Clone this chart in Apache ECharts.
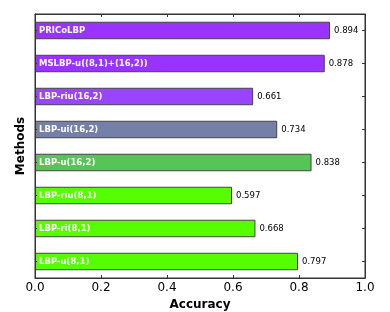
<!DOCTYPE html>
<html><head><meta charset="utf-8">
<script src="https://cdn.jsdelivr.net/npm/echarts@6/dist/echarts.min.js"></script>
<style>html,body{margin:0;padding:0;background:#fff}#c{width:390px;height:312px}</style>
</head><body><div id="c"></div>
<script>
// top-to-bottom order
const categories = ['PRICoLBP','MSLBP-u((8,1)+(16,2))','LBP-riu(16,2)','LBP-ui(16,2)','LBP-u(16,2)','LBP-riu(8,1)','LBP-ri(8,1)','LBP-u(8,1)'];
const accuracy = [0.894, 0.878, 0.661, 0.734, 0.838, 0.597, 0.668, 0.797];
const barColors = ['#9933ff','#9933ff','#9944ff','#7480a8','#55c555','#55ff00','#55ff00','#55ff00'];
const xTicks = [0, 0.2, 0.4, 0.6, 0.8, 1.0];

const chart = echarts.init(document.getElementById('c'));
const font = 'DejaVu Sans';
chart.setOption({
  animation: false,
  textStyle: {fontFamily: font},
  grid: {left: 35, right: 25, top: 14, bottom: 34, outerBoundsMode: 'none', containLabel: false,
    show: true, borderColor: '#333', borderWidth: 1, backgroundColor: 'transparent'},
  xAxis: [{
    type: 'value', min: xTicks[0], max: xTicks[xTicks.length-1], interval: 0.2,
    position: 'bottom',
    name: 'Accuracy', nameLocation: 'middle', nameGap: 19,
    nameTextStyle: {fontFamily: font, fontWeight: 'bold', fontSize: 12, color: '#000'},
    axisLine: {show: true, onZero: false, lineStyle: {color: '#333', width: 1}},
    axisTick: {show: true, inside: true, length: 3, lineStyle: {color: '#333'}},
    axisLabel: {fontFamily: font, fontSize: 12, color: '#000', margin: 4, formatter: v => v.toFixed(1)},
    splitLine: {show: false}
  },{
    type: 'value', min: xTicks[0], max: xTicks[xTicks.length-1], interval: 0.2,
    position: 'top',
    axisLine: {show: true, onZero: false, lineStyle: {color: '#333', width: 1}},
    axisTick: {show: true, inside: true, length: 3, lineStyle: {color: '#333'}},
    axisLabel: {show: false}, splitLine: {show: false}
  }],
  yAxis: [{
    type: 'category', data: categories, inverse: true, position: 'left', z: 10,
    name: 'Methods', nameLocation: 'middle', nameGap: 4, nameRotate: 90,
    nameTextStyle: {fontFamily: font, fontWeight: 'bold', fontSize: 12, color: '#000'},
    axisLine: {show: true, onZero: false, lineStyle: {color: '#333', width: 1}},
    axisTick: {show: true, inside: true, length: 2, alignWithLabel: true, lineStyle: {color: '#333'}},
    axisLabel: {inside: true, margin: 4, color: '#fff', fontWeight: 'bold', fontSize: 8.5, fontFamily: font},
    splitLine: {show: false}
  },{
    type: 'category', data: categories, inverse: true, position: 'right',
    axisLine: {show: true, onZero: false, lineStyle: {color: '#333', width: 1}},
    axisTick: {show: true, inside: true, length: 3, alignWithLabel: true, lineStyle: {color: '#333'}},
    axisLabel: {show: false}, splitLine: {show: false}
  }],
  series: [{
    type: 'bar', xAxisIndex: 0, yAxisIndex: 0,
    barWidth: '53%',
    data: accuracy.map((v, i) => ({value: v, itemStyle: {color: barColors[i]}})),
    itemStyle: {borderColor: '#444', borderWidth: 1},
    label: {show: true, position: 'right', distance: 4, color: '#000', fontSize: 8.5, fontFamily: font,
      formatter: p => p.value.toFixed(3)}
  }]
});
</script></body></html>
